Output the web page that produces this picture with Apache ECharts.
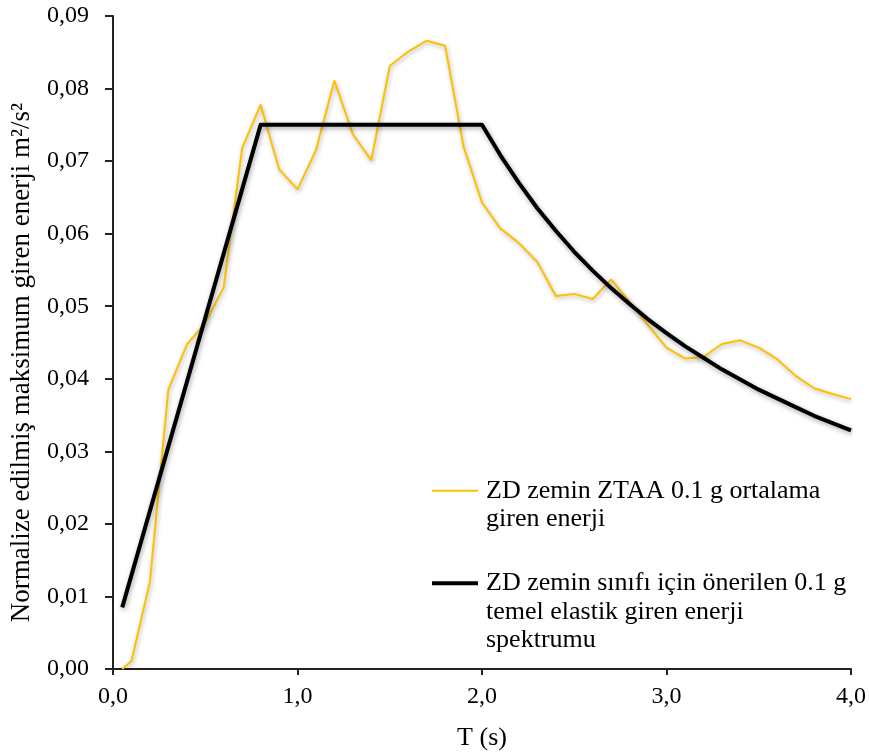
<!DOCTYPE html>
<html>
<head>
<meta charset="utf-8">
<script src="https://cdn.jsdelivr.net/npm/echarts@6/dist/echarts.min.js"></script>
<style>
  html, body { margin: 0; padding: 0; background: #ffffff; }
  #chart { width: 869px; height: 756px; }
</style>
</head>
<body>
<div id="chart"></div>
<script>
// Periods (s) and average input energy for ZD soil, ZTAA 0.1 g
const periods = [0.05, 0.1, 0.2, 0.3, 0.4, 0.5, 0.6, 0.7, 0.8, 0.9, 1.0,
  1.1, 1.2, 1.3, 1.4, 1.5, 1.6, 1.7, 1.8, 1.9, 2.0,
  2.1, 2.2, 2.3, 2.4, 2.5, 2.6, 2.7, 2.8, 2.9, 3.0,
  3.1, 3.2, 3.3, 3.4, 3.5, 3.6, 3.7, 3.8, 3.9, 4.0];
const averageEnergy = [0.0000, 0.0011, 0.0120, 0.0385, 0.0447, 0.0477, 0.0526, 0.0718, 0.0778, 0.0689, 0.0661,
  0.0715, 0.0811, 0.0737, 0.0701, 0.0831, 0.0851, 0.0866, 0.0859, 0.0720, 0.0643,
  0.0607, 0.0587, 0.0561, 0.0514, 0.0517, 0.0510, 0.0537, 0.0506, 0.0474, 0.0443,
  0.0428, 0.0430, 0.0448, 0.0453, 0.0443, 0.0427, 0.0404, 0.0387, 0.0379, 0.0372];

// Proposed elastic input energy spectrum (ZD soil class, 0.1 g)
const spectrumPeriods = [0.05, 0.8, 2.0, 2.1, 2.2, 2.3, 2.4, 2.5, 2.6, 2.7, 2.8, 2.9, 3.0,
  3.1, 3.2, 3.3, 3.4, 3.5, 3.6, 3.7, 3.8, 3.9, 4.0];
const spectrumEnergy = [0.0085, 0.0750, 0.0750, 0.0708, 0.0670, 0.0635, 0.0604, 0.0575, 0.0549, 0.0525, 0.0503, 0.0482, 0.0463,
  0.0445, 0.0429, 0.0413, 0.0399, 0.0385, 0.0373, 0.0361, 0.0349, 0.0339, 0.0329];

const xTicks = [0, 1, 2, 3, 4];
const seriesNames = [
  'ZD zemin ZTAA 0.1 g ortalama\ngiren enerji',
  'ZD zemin sınıfı için önerilen 0.1 g\ntemel elastik giren enerji\nspektrumu'
];
const xAxisTitle = 'T (s)';
const yAxisTitle = 'Normalize edilmiş maksimum giren enerji m²/s²';

const FONT = '"Liberation Serif", "Times New Roman", serif';
const GOLD = '#FFC000';

const pair = (xs, ys) => xs.map((x, i) => [x, ys[i]]);

const chart = echarts.init(document.getElementById('chart'), null, { renderer: 'canvas' });

const legendText = (name, lines) => {
  // pad with empty lines above so the icon sits on the first text line
  const pad = new Array(lines - 1).fill('\u200b').join('\n');
  return pad + '\n' + name;
};

chart.setOption({
  animation: false,
  backgroundColor: '#ffffff',
  grid: { left: 112, right: 18, top: 16, bottom: 87, containLabel: false },
  xAxis: {
    type: 'value',
    min: xTicks[0],
    max: xTicks[xTicks.length - 1],
    interval: 1,
    name: xAxisTitle,
    nameLocation: 'middle',
    nameGap: 56,
    nameTextStyle: { fontFamily: FONT, fontSize: 26, color: '#000' },
    axisLine: { show: true, onZero: false, lineStyle: { color: '#222', width: 2 } },
    axisTick: { show: true, inside: false, length: 6, lineStyle: { color: '#222', width: 2 } },
    axisLabel: {
      fontFamily: FONT, fontSize: 24, color: '#000', margin: 16,
      formatter: v => v.toFixed(1).replace('.', ',')
    },
    splitLine: { show: false }
  },
  yAxis: {
    type: 'value',
    min: 0,
    max: 0.09,
    interval: 0.01,
    name: yAxisTitle,
    nameLocation: 'middle',
    nameGap: 78,
    nameTextStyle: { fontFamily: FONT, fontSize: 27, color: '#000', padding: [0, 40, 0, 0] },
    axisLine: { show: true, onZero: false, lineStyle: { color: '#222', width: 2 } },
    axisTick: { show: true, inside: false, length: 8, lineStyle: { color: '#222', width: 2 } },
    axisLabel: {
      fontFamily: FONT, fontSize: 24, color: '#000', margin: 24,
      formatter: v => v.toFixed(2).replace('.', ',')
    },
    splitLine: { show: false }
  },
  legend: [
    {
      data: [{ name: seriesNames[0] }],
      left: 432, top: 448,
      padding: 0,
      orient: 'vertical',
      icon: 'rect',
      itemWidth: 46, itemHeight: 2,
      formatter: n => legendText(n, 2),
      textStyle: { fontFamily: FONT, fontSize: 26, color: '#000', lineHeight: 28.5, padding: [0, 0, 0, 3] },
      selectedMode: false
    },
    {
      data: [{ name: seriesNames[1] }],
      left: 432, top: 512,
      padding: 0,
      orient: 'vertical',
      icon: 'rect',
      itemWidth: 46, itemHeight: 4,
      formatter: n => legendText(n, 3),
      textStyle: { fontFamily: FONT, fontSize: 26, color: '#000', lineHeight: 28.5, padding: [0, 0, 0, 3] },
      selectedMode: false
    }
  ],
  series: [
    {
      name: seriesNames[0],
      type: 'line',
      data: pair(periods, averageEnergy),
      showSymbol: false,
      symbol: 'none',
      itemStyle: { color: GOLD },
      lineStyle: {
        color: GOLD, width: 2,
        shadowColor: 'rgba(0,0,0,0.3)', shadowBlur: 4, shadowOffsetX: 1, shadowOffsetY: 2
      },
      z: 2
    },
    {
      name: seriesNames[1],
      type: 'line',
      data: pair(spectrumPeriods, spectrumEnergy),
      smooth: false,
      showSymbol: false,
      symbol: 'none',
      itemStyle: { color: '#000' },
      lineStyle: {
        color: '#000', width: 4, join: 'round',
        shadowColor: 'rgba(0,0,0,0.35)', shadowBlur: 5, shadowOffsetX: 1, shadowOffsetY: 2
      },
      z: 3
    }
  ]
});
</script>
</body>
</html>
